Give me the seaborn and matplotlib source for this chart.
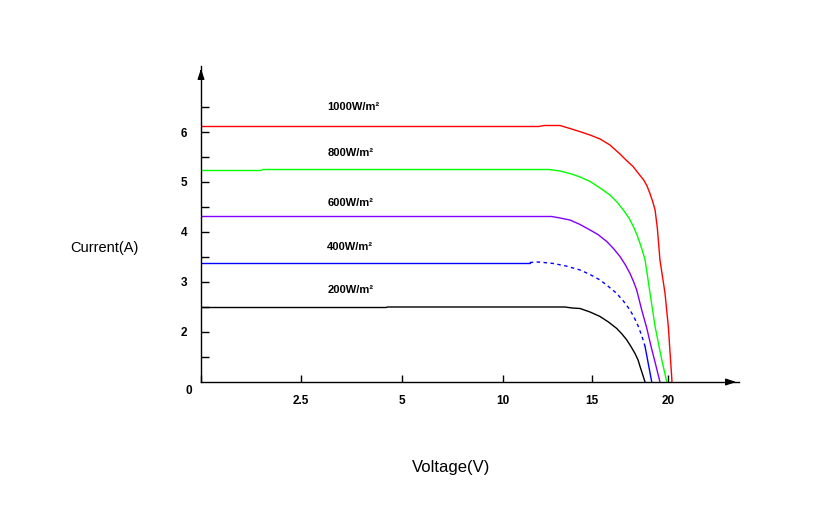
import numpy as np
import pandas as pd
import matplotlib
matplotlib.use("Agg")
import matplotlib.pyplot as plt
import seaborn as sns

# ---- data ----
irradiance = ["1000W/m²", "800W/m²", "600W/m²", "400W/m²", "200W/m²"]

v_1000 = [0, 12.0, 12.3, 13.2, 13.76, 14.3, 14.89, 15.53, 16.18, 16.84, 17.27, 17.7, 18.03, 18.4,
          18.62, 18.8, 18.98, 19.15, 19.3, 19.47, 19.8, 20.02, 20.24, 20.26]
i_1000 = [6.11, 6.11, 6.13, 6.13, 6.07, 6.01, 5.94, 5.86, 5.74, 5.56, 5.43, 5.31, 5.18, 5.04,
          4.92, 4.78, 4.62, 4.44, 4.07, 3.44, 2.78, 2.11, 1.11, 1.0]

v_800 = [0, 1.5, 1.55, 12.6, 13.2, 13.76, 14.33, 14.89, 15.53, 16.18, 16.64, 17.06, 17.43, 17.72,
         17.96, 18.16, 18.32, 18.49, 18.65, 18.82, 19.15, 19.59, 19.92]
i_800 = [5.23, 5.23, 5.25, 5.25, 5.22, 5.17, 5.10, 5.01, 4.88, 4.74, 4.60, 4.44, 4.28, 4.11,
         3.94, 3.77, 3.62, 3.44, 3.12, 2.77, 2.11, 1.44, 1.0]

v_600 = [0, 12.74, 13.2, 13.76, 14.33, 14.89, 15.39, 15.97, 16.41, 16.84, 17.2, 17.5, 17.73, 17.94,
         18.27, 18.6, 18.91, 19.21, 19.47]
i_600 = [4.31, 4.31, 4.28, 4.24, 4.15, 4.04, 3.95, 3.81, 3.67, 3.51, 3.34, 3.17, 3.01, 2.84,
         2.44, 2.08, 1.68, 1.32, 1.0]

v_400 = [0, 11.5, 12.0, 12.84, 13.54, 14.33, 14.89, 15.53, 16.08, 16.63, 17.06, 17.5, 17.79, 18.05,
         18.29, 18.49, 18.7, 18.93]
i_400 = [3.39, 3.39, 3.40, 3.37, 3.32, 3.24, 3.15, 3.04, 2.91, 2.77, 2.62, 2.44, 2.28, 2.11,
         1.91, 1.71, 1.37, 1.0]
dash_from_400, dash_to_400 = 11.5, 18.49

v_200 = [0, 4.6, 4.65, 13.48, 13.88, 14.33, 14.89, 15.53, 16.08, 16.63, 16.97, 17.29, 17.56, 17.83,
         18.03, 18.16, 18.32, 18.49]
i_200 = [2.49, 2.49, 2.50, 2.50, 2.48, 2.47, 2.40, 2.31, 2.20, 2.07, 1.96, 1.84, 1.71, 1.57,
         1.44, 1.31, 1.16, 1.0]

x_ticks = [0, 2.5, 5, 10, 15, 20]
x_ticklabels = ["", "2.5", "5", "10", "15", "20"]
y_ticks = [1.5, 2, 2.5, 3, 3.5, 4, 4.5, 5, 5.5, 6, 6.5]
y_ticklabels = ["", "2", "", "3", "", "4", "", "5", "", "6", ""]

# ---- styles ----
palette = {"1000W/m²": "#FF0000", "800W/m²": "#00FF00", "600W/m²": "#8000FF",
           "400W/m²": "#0000FF", "200W/m²": "#000000"}

sns.set_theme(style="white")
plt.rcParams["font.family"] = ["Liberation Sans", "DejaVu Sans"]
plt.rcParams.update({"text.color": "black", "axes.labelcolor": "black",
                     "xtick.color": "black", "ytick.color": "black"})

# build long table with segments (400 W/m² curve has a dashed middle part)
rows = []
def add(vs, is_, label, seg, style):
    for v, i in zip(vs, is_):
        rows.append({"V": v, "I": i, "irr": label, "seg": f"{label}-{seg}", "ls": style})

add(v_1000, i_1000, irradiance[0], 0, "solid")
add(v_800, i_800, irradiance[1], 0, "solid")
add(v_600, i_600, irradiance[2], 0, "solid")
v4 = np.array(v_400); i4 = np.array(i_400)
m1 = v4 <= dash_from_400
m2 = (v4 >= dash_from_400) & (v4 <= dash_to_400)
m3 = v4 >= dash_to_400
add(v4[m1], i4[m1], irradiance[3], 0, "solid")
add(v4[m2], i4[m2], irradiance[3], 1, "dashed")
add(v4[m3], i4[m3], irradiance[3], 2, "solid")
add(v_200, i_200, irradiance[4], 0, "solid")
df = pd.DataFrame(rows)

fig = plt.figure(figsize=(8.26, 5.19), dpi=100)
ax = fig.add_axes([201 / 826, (519 - 382) / 519, 538 / 826, 316 / 519])

# non-uniform voltage axis (tick spacing as in the reference)
volt_knots = [0, 2.5, 5, 10, 15, 20, 40]
pos_knots = [0, 100, 201, 302, 391, 467, 771]
ax.set_xscale("function", functions=(lambda v: np.interp(v, volt_knots, pos_knots),
                                     lambda p: np.interp(p, pos_knots, volt_knots)))

sns.lineplot(data=df, x="V", y="I", hue="irr", palette=palette, units="seg",
             estimator=None, sort=False, style="ls",
             dashes={"solid": "", "dashed": (2.5, 2.5)}, linewidth=1.0,
             legend=False, ax=ax)

ax.set_xlim(0, 24.67)
ax.set_ylim(1, 7.32)

for s in ["top", "right"]:
    ax.spines[s].set_visible(False)
for s in ["left", "bottom"]:
    ax.spines[s].set_color("black")
    ax.spines[s].set_linewidth(1.0)

ax.set_xticks(x_ticks)
ax.set_xticklabels(x_ticklabels)
ax.set_yticks(y_ticks)
ax.set_yticklabels(y_ticklabels)
ax.xaxis.set_minor_locator(matplotlib.ticker.NullLocator())
ax.tick_params(axis="x", direction="in", length=5, width=1, color="black",
               pad=9, labelsize=8.5, bottom=True, labelcolor="black")
ax.tick_params(axis="y", direction="in", length=6, width=1, color="black",
               pad=10, labelsize=8.5, left=True, labelcolor="black")
for lab in ax.get_xticklabels() + ax.get_yticklabels():
    lab.set_fontweight("bold")
ax.set_xlabel("")
ax.set_ylabel("")
ax.grid(False)

# origin label
ax.text(-0.022, -0.03, "0", transform=ax.transAxes, ha="center", va="center",
        fontsize=8.5, fontweight="bold", color="black")

# axis arrows
ax.annotate("", xy=(1.0, 0), xytext=(0.97, 0), xycoords="axes fraction",
            arrowprops=dict(arrowstyle="-|>,head_length=0.6,head_width=0.2",
                            color="black", lw=1, mutation_scale=10),
            annotation_clip=False)
ax.annotate("", xy=(0, 1.0), xytext=(0, 0.97), xycoords="axes fraction",
            arrowprops=dict(arrowstyle="-|>,head_length=0.6,head_width=0.2",
                            color="black", lw=1, mutation_scale=10),
            annotation_clip=False)

# curve labels
label_y = [6.51, 5.59, 4.58, 3.71, 2.84]
for lab, yy in zip(irradiance, label_y):
    ax.text(3.15, yy, lab, ha="left", va="center", fontsize=8, fontweight="bold",
            color="black")

fig.text(104.5 / 826, 1 - 248 / 519, "Current(A)", ha="center", va="center",
         fontsize=10.5, color="black")
fig.text(451 / 826, 1 - 467.5 / 519, "Voltage(V)", ha="center", va="center",
         fontsize=12, color="black")

fig.savefig("out.png", dpi=100)
